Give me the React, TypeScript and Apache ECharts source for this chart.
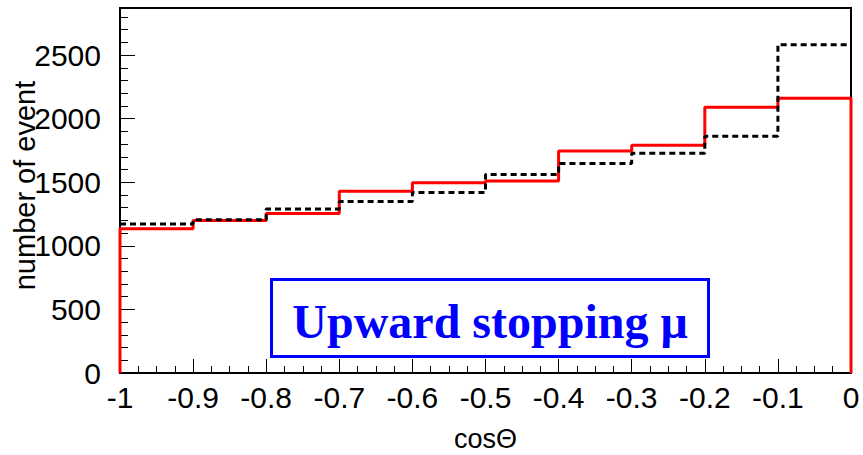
import React, { useEffect, useRef } from "react";
import * as echarts from "echarts";

const binEdges = [-1, -0.9, -0.8, -0.7, -0.6, -0.5, -0.4, -0.3, -0.2, -0.1, 0];
const dataCounts = [1135, 1200, 1255, 1430, 1495, 1510, 1745, 1790, 2090, 2160];
const mcCounts = [1172, 1205, 1290, 1348, 1420, 1560, 1648, 1728, 1862, 2582];
const boxLabel = "Upward stopping \u03bc";
const xTitle = "cos\u0398";
const yTitle = "number of event";

function stepPoints(counts: number[], closeEdges: boolean): number[][] {
  const pts: number[][] = [];
  if (closeEdges) pts.push([binEdges[0], 0]);
  counts.forEach((c, i) => pts.push([binEdges[i], c]));
  pts.push([binEdges[binEdges.length - 1], counts[counts.length - 1]]);
  if (closeEdges) pts.push([binEdges[binEdges.length - 1], 0]);
  return pts;
}

export default function App() {
  const ref = useRef<HTMLDivElement>(null);
  useEffect(() => {
    if (!ref.current) return;
    const chart = echarts.init(ref.current, undefined, { renderer: "svg" });
    const font = "Liberation Sans, Arial, sans-serif";
    const yMax = 2870;
    const gridBox = { left: 120, right: 12, top: 8, bottom: 82 };
    chart.setOption({
      animation: false,
      backgroundColor: "#fff",
      grid: [
        {
          ...gridBox,
          outerBoundsMode: "none",
          containLabel: false,
          show: true,
          borderColor: "#000",
          borderWidth: 2,
          backgroundColor: "transparent",
        },
        {
          ...gridBox,
          outerBoundsMode: "none",
          containLabel: false,
          show: false,
        },
      ],
      xAxis: [
        {
          type: "value",
          gridIndex: 0,
          position: "bottom",
          min: -1,
          max: 0,
          interval: 0.1,
          name: xTitle,
          nameLocation: "middle",
          nameGap: 52,
          nameMoveOverlap: false,
          nameTextStyle: { fontFamily: font, fontSize: 27, color: "#000" },
          axisLine: { show: true, onZero: false, lineStyle: { color: "#000", width: 2 } },
          axisTick: { show: true, inside: true, length: 14, lineStyle: { color: "#000", width: 1 } },
          minorTick: { show: true, splitNumber: 4, length: 7, lineStyle: { color: "#000", width: 1 } },
          axisLabel: { fontFamily: font, fontSize: 30, color: "#000", margin: 9 },
          splitLine: { show: false },
        },
        {
          type: "value",
          gridIndex: 1,
          position: "bottom",
          min: -1,
          max: 0,
          axisLine: { show: false, onZero: false },
          axisTick: { show: false },
          axisLabel: { show: false },
          splitLine: { show: false },
        },
      ],
      yAxis: [
        {
          type: "value",
          gridIndex: 0,
          position: "left",
          min: 0,
          max: yMax,
          interval: 500,
          name: yTitle,
          nameLocation: "middle",
          nameRotate: 90,
          nameGap: 81,
          nameMoveOverlap: false,
          nameTextStyle: { fontFamily: font, fontSize: 29, color: "#000", padding: [0, 0, 0, 10] },
          axisLine: { show: true, onZero: false, lineStyle: { color: "#000", width: 2 } },
          axisTick: { show: true, inside: true, length: 15, lineStyle: { color: "#000", width: 1 } },
          axisLabel: {
            fontFamily: font,
            fontSize: 30,
            color: "#000",
            margin: 19,
            formatter: (v: number) => (v % 500 === 0 ? String(v) : ""),
          },
          splitLine: { show: false },
        },
        {
          type: "value",
          gridIndex: 1,
          position: "left",
          min: 0,
          max: yMax,
          interval: 100,
          axisLine: { show: false, onZero: false },
          axisTick: { show: true, inside: true, length: 8, lineStyle: { color: "#000", width: 1 } },
          axisLabel: { show: false },
          splitLine: { show: false },
        },
      ],
      series: [
        {
          type: "line",
          step: "end",
          xAxisIndex: 0,
          yAxisIndex: 0,
          data: stepPoints(dataCounts, true),
          symbol: "none",
          clip: false,
          lineStyle: { color: "#ff0000", width: 3 },
          z: 3,
        },
        {
          type: "line",
          step: "end",
          xAxisIndex: 0,
          yAxisIndex: 0,
          data: stepPoints(mcCounts, false),
          symbol: "none",
          clip: false,
          lineStyle: { color: "#000", width: 3, type: [6, 4] },
          z: 4,
        },
      ],
      graphic: [
        {
          type: "group",
          children: [
            {
              type: "rect",
              shape: { x: 271.5, y: 279.5, width: 437, height: 77 },
              style: { fill: "#fff", stroke: "#0000ff", lineWidth: 3 },
              z: 10,
            },
            {
              type: "text",
              x: 490,
              y: 321,
              style: {
                text: boxLabel,
                fill: "#0000ff",
                font: "bold 48px 'Liberation Serif', 'Times New Roman', serif",
                align: "center",
                verticalAlign: "middle",
              },
              z: 11,
            },
          ],
        },
      ],
    });
    return () => chart.dispose();
  }, []);
  return <div ref={ref} style={{ width: 863, height: 455, position: "absolute", left: 0, top: 0 }} />;
}
